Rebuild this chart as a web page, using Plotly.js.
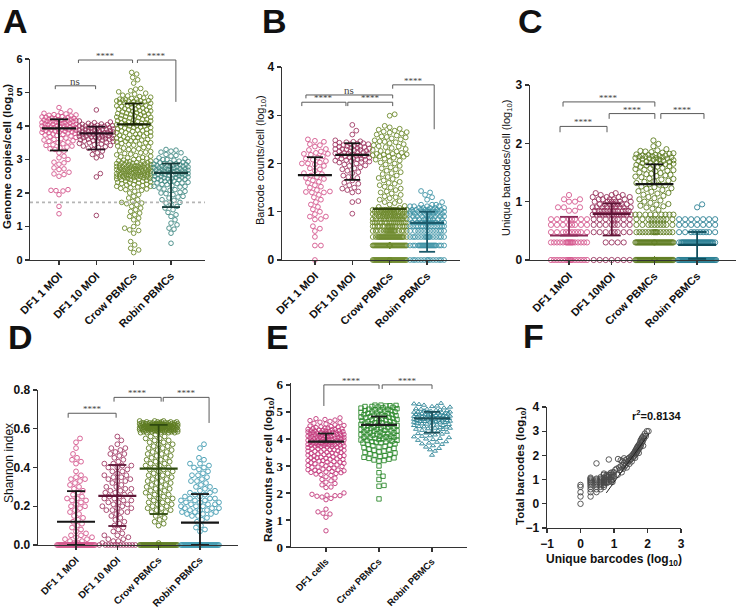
<!DOCTYPE html>
<html>
<head>
<meta charset="utf-8">
<script src="https://cdn.plot.ly/plotly-3.0.1.min.js"></script>
<style>
  body { margin: 0; background: #fff; }
  #plot { width: 737px; height: 608px; }
</style>
</head>
<body>
<div id="plot"></div>
<script>
// ---- data (log10 values) ----
var groups4 = ["DF1 1 MOI", "DF1 10 MOI", "Crow PBMCs", "Robin PBMCs"];
var groupsC = ["DF1 1MOI", "DF1 10MOI", "Crow PBMCs", "Robin PBMCs"];
var groupsE = ["DF1 cells", "Crow PBMCs", "Robin PBMCs"];

// A: genome copies / cell
var A_df1_1 = [4.55,4.45,4.4,4.38,4.36,4.34,4.33,4.32,4.3,4.3,4.28,4.27,4.26,4.25,4.24,4.23,4.22,4.21,4.2,4.2,4.19,4.18,4.17,4.16,4.15,4.15,4.14,4.13,4.12,4.11,4.1,4.1,4.09,4.08,4.07,4.06,4.05,4.05,4.04,4.03,4.02,4.01,4.0,4.0,3.99,3.98,3.97,3.96,3.95,3.95,3.94,3.93,3.92,3.91,3.9,3.9,3.89,3.88,3.87,3.86,3.85,3.84,3.83,3.82,3.81,3.8,3.79,3.78,3.76,3.75,3.73,3.72,3.7,3.68,3.66,3.64,3.62,3.6,3.58,3.56,3.54,3.52,3.5,3.47,3.44,3.42,3.4,3.37,3.35,3.32,3.3,3.25,3.2,3.1,3.05,3.0,2.92,2.9,2.86,2.75,2.72,2.7,2.62,2.57,2.55,2.5,2.1,2.08,2.07,2.06,1.95,1.6,1.38];
var A_df1_10 = [4.48,4.15,4.12,4.1,4.08,4.06,4.05,4.04,4.03,4.02,4.01,4.0,4.0,3.99,3.98,3.97,3.96,3.95,3.94,3.93,3.92,3.91,3.9,3.9,3.89,3.88,3.87,3.86,3.85,3.85,3.84,3.83,3.82,3.81,3.8,3.8,3.79,3.78,3.77,3.76,3.75,3.75,3.74,3.73,3.72,3.71,3.7,3.7,3.69,3.68,3.67,3.66,3.65,3.64,3.63,3.62,3.61,3.6,3.59,3.58,3.57,3.56,3.55,3.54,3.52,3.5,3.48,3.46,3.44,3.42,3.4,3.38,3.36,3.34,3.3,3.25,3.2,3.15,3.1,3.05,2.58,2.48,1.33];
var A_crow = [5.6,5.55,5.45,5.38,5.28,5.12,5.1,5.05,5.02,4.98,4.95,4.92,4.9,4.88,4.86,4.84,4.82,4.8,4.8,4.78,4.77,4.76,4.75,4.75,4.74,4.73,4.72,4.71,4.7,4.7,
  4.68,4.66,4.65,4.64,4.62,4.6,4.6,4.58,4.57,4.56,4.55,4.54,4.52,4.5,4.5,4.48,4.47,4.46,4.45,4.44,4.42,4.4,4.4,4.38,4.37,4.36,4.35,4.34,4.32,4.3,4.3,4.28,4.27,4.26,4.25,4.24,4.22,4.2,4.2,4.18,4.17,4.16,4.15,4.14,4.12,4.1,4.1,4.08,4.07,4.06,4.05,4.04,4.02,4.0,4.0,3.98,3.97,3.96,3.95,3.94,3.92,3.9,3.9,3.88,3.86,3.85,3.84,3.82,3.8,3.8,3.78,3.76,3.75,3.74,3.72,3.7,3.7,3.68,3.66,3.65,3.64,3.62,3.6,3.6,3.58,3.56,3.55,3.54,3.52,3.5,3.5,3.48,3.46,3.45,3.43,3.4,3.38,3.36,3.34,3.32,3.3,3.28,3.26,3.24,3.22,3.2,3.18,3.16,3.14,3.12,3.1,3.08,3.06,3.05,3.04,3.02,3.0,
  2.98,2.96,2.95,2.94,2.93,2.92,2.91,2.9,2.9,2.89,2.88,2.87,2.86,2.85,2.85,2.84,2.83,2.82,2.81,2.8,2.8,2.8,2.79,2.78,2.78,2.77,2.76,2.75,2.75,2.75,2.74,2.73,2.72,2.72,2.71,2.7,2.7,2.7,2.69,2.68,2.68,2.67,2.66,2.65,2.65,2.65,2.64,2.63,2.62,2.62,2.61,2.6,2.6,2.6,2.59,2.58,2.58,2.57,2.56,2.55,2.55,2.55,2.54,2.53,2.52,2.52,2.51,2.5,2.5,2.5,2.49,2.48,2.48,2.47,2.46,2.45,2.45,2.44,2.43,2.42,2.41,2.4,2.4,2.38,2.37,2.36,2.35,2.34,2.32,2.3,2.3,2.28,2.26,2.25,2.24,2.22,2.2,2.2,2.18,2.16,2.14,2.12,2.1,2.08,
  2.05,2.0,1.95,1.9,1.85,1.8,1.75,1.72,1.7,1.68,1.65,1.6,1.55,1.5,1.45,1.4,1.35,1.3,1.25,1.2,1.1,1.0,0.95,0.9,0.88,0.8,0.55,0.45,0.35,0.3,0.22];
var A_robin = [3.3,3.28,3.25,3.22,3.2,3.15,3.12,3.1,3.05,3.02,3.0,3.0,2.98,2.96,2.95,2.94,2.92,2.9,2.9,2.88,2.87,2.86,2.85,2.84,2.83,2.82,2.81,2.8,2.8,2.79,2.78,2.77,2.76,2.75,2.75,2.74,2.73,2.72,2.71,2.7,2.7,2.69,2.68,2.67,2.66,2.65,2.65,2.64,2.63,2.62,2.61,2.6,2.6,2.59,2.58,2.57,2.56,2.55,2.55,2.54,2.53,2.52,2.51,2.5,2.5,2.48,2.47,2.46,2.45,2.44,2.43,2.42,2.41,2.4,2.4,2.38,2.36,2.35,2.34,2.32,2.3,2.3,2.28,2.26,2.25,2.22,2.2,2.2,2.18,2.15,2.12,2.1,2.08,2.05,2.02,2.0,1.98,1.95,1.9,1.88,1.85,1.8,1.78,1.72,1.7,1.65,1.6,1.55,1.5,1.42,1.35,1.3,1.2,1.1,1.05,0.95,0.92,0.8,0.5];
var A_mean = [3.93, 3.78, 4.05, 2.6];
var A_lo = [3.27, 3.3, 4.05, 1.58];
var A_hi = [4.2, 3.98, 4.67, 2.88];
var A_limit = 1.72;

// B: barcode counts / cell
var B_df1_1 = [2.5,2.47,2.45,2.4,2.38,2.35,2.3,2.28,2.25,2.22,2.2,2.2,2.18,2.15,2.12,2.1,2.08,2.05,2.02,2.0,2.0,1.98,1.95,1.9,1.88,1.85,1.8,1.78,1.75,1.72,1.7,1.68,1.65,1.62,1.6,1.55,1.52,1.5,1.45,1.42,1.41,1.4,1.4,1.35,1.3,1.25,1.2,1.15,1.1,1.05,1.0,0.95,0.9,0.9,0.85,0.84,0.7,0.65,0.6,0.48,0.3,0.3,0.0];
var B_df1_10 = [2.8,2.68,2.6,2.48,2.46,2.45,2.44,2.43,2.42,2.41,2.4,2.4,2.39,2.38,2.37,2.36,2.35,2.35,2.34,2.33,2.32,2.31,2.3,2.3,2.29,2.28,2.27,2.26,2.25,2.25,2.24,2.23,2.22,2.21,2.2,2.2,2.19,2.18,2.17,2.16,2.15,2.15,2.14,2.13,2.12,2.11,2.1,2.1,2.09,2.08,2.07,2.06,2.05,2.04,2.03,2.02,2.0,1.98,1.96,1.95,1.92,1.9,1.88,1.85,1.82,1.8,1.75,1.72,1.7,1.65,1.6,1.58,1.55,1.5,1.48,1.45,1.42,1.4,1.22,1.2,0.96];
var B_crow_cont = [3.02,2.99,2.78,2.75,2.72,2.7,2.68,2.66,2.65,2.64,2.62,2.6,2.58,2.56,2.55,2.54,2.52,2.5,2.48,2.46,2.45,2.44,2.42,2.4,2.38,2.36,2.35,2.34,2.32,2.3,2.28,2.26,2.25,2.24,2.22,2.2,2.2,2.19,2.18,2.17,2.16,2.15,2.15,2.14,2.12,2.1,2.08,2.06,2.05,2.02,2.0,1.98,1.95,1.92,1.9,1.88,1.85,1.82,1.8,1.78,1.75,1.72,1.7,1.68,1.65,1.62,1.6,1.58,1.55,1.52,1.5,1.48,1.45,1.42,1.4,1.38,1.35,1.32,1.3,1.28,1.25,1.22,1.2,1.18,1.15,1.12,1.1,1.08];
var B_levels = [0, 0.301, 0.477, 0.602, 0.699, 0.778, 0.845, 0.903, 0.954, 1.0, 1.041, 1.079, 1.114, 1.146];
var B_crow_counts = [40, 45, 30, 20, 18, 16, 14, 14, 12, 12, 12, 0, 0, 0];
var B_robin_counts = [14, 25, 16, 12, 14, 12, 10, 8, 8, 10, 8, 5, 4, 3];
var B_robin_cont = [1.43, 1.4, 1.35, 1.3, 1.25, 1.2];
var B_mean = [1.76, 2.18, 1.06, 0.77];
var B_lo = [1.76, 1.66, 1.06, 0.17];
var B_hi = [2.13, 2.42, 1.06, 1.0];

// C: unique barcodes / cell
var C_levels = [0, 0.301, 0.477, 0.602, 0.699, 0.778, 0.845, 0.903, 0.954, 1.0, 1.041, 1.079, 1.114, 1.146, 1.176];
var C_df1_1_counts = [16, 18, 10, 8, 8, 0, 2, 3, 0, 2, 2, 0, 1, 0, 0];
var C_df1_10_counts = [7, 4, 8, 8, 8, 14, 12, 9, 7, 6, 5, 4, 3, 2, 0];
var C_crow_counts = [60, 40, 16, 10, 10, 9, 0, 0, 0, 0, 0, 0, 0, 0, 0];
var C_robin_counts = [45, 35, 10, 7, 7, 0, 0, 1, 1, 0, 0, 0, 0, 0, 0];
var C_crow_cont = [2.05,1.99,1.95,1.9,1.88,1.87,1.86,1.85,1.84,1.83,1.82,1.81,1.8,1.8,1.79,1.79,1.78,1.78,1.77,1.77,1.76,1.76,1.75,1.75,1.74,1.74,1.73,1.72,1.72,1.71,1.7,1.7,1.69,1.68,1.68,1.67,1.66,1.65,1.65,1.64,1.63,1.62,1.62,1.61,1.6,1.6,1.58,1.57,1.56,1.55,1.54,1.53,1.52,1.5,1.49,1.48,1.47,1.46,1.45,1.44,1.43,1.42,1.4,1.39,1.38,1.36,1.35,1.34,1.32,1.3,1.29,1.28,1.26,1.25,1.23,1.22,1.2,1.18,1.17,1.15,1.14,1.12,1.1,1.08,1.06,1.04,1.02,1.0,0.98,0.96,0.95,0.93,0.92,0.9,0.88,0.86];
var C_mean = [0.42, 0.79, 1.30, 0.26];
var C_lo = [0.42, 0.42, 1.30, 0.02];
var C_hi = [0.74, 0.97, 1.64, 0.48];

// D: Shannon index
var D_zero_counts = [40, 12, 70, 50];
var D_df1_1 = [0.55,0.53,0.5,0.47,0.45,0.44,0.43,0.42,0.38,0.36,0.35,0.34,0.34,0.33,0.32,0.31,0.3,0.29,0.28,0.27,0.26,0.25,0.24,0.24,0.23,0.23,0.22,0.21,0.2,0.2,0.19,0.18,0.17,0.16,0.15,0.14,0.13,0.12,0.11,0.1,0.09,0.08,0.07,0.06,0.05,0.05,0.04,0.04,0.03,0.03,0.02,0.02,0.01,0.01,0.01];
var D_df1_10 = [0.56,0.54,0.52,0.5,0.5,0.49,0.48,0.47,0.47,0.46,0.45,0.44,0.43,0.42,0.42,0.41,0.41,0.4,0.4,0.39,0.38,0.38,0.37,0.36,0.36,0.35,0.35,0.34,0.34,0.33,0.33,0.32,0.31,0.3,0.3,0.29,0.29,0.28,0.28,0.27,0.27,0.26,0.26,0.25,0.25,0.24,0.24,0.23,0.23,0.22,0.22,0.21,0.21,0.2,0.2,0.19,0.19,0.18,0.18,0.17,0.17,0.16,0.15,0.14,0.13,0.12,0.11,0.1,0.09,0.08,0.07,0.06,0.05,0.05,0.04,0.03,0.03,0.02,0.02,0.01];
var D_crow_top = [0.64, 0.635, 0.63, 0.625, 0.62, 0.615, 0.61, 0.605, 0.6, 0.595, 0.59, 0.585, 0.58];
var D_crow_top_counts = [3, 5, 8, 10, 12, 14, 14, 14, 12, 10, 8, 6, 5];
var D_crow = [0.57,0.56,0.56,0.55,0.55,0.54,0.54,0.53,0.53,0.52,0.52,0.51,0.51,0.5,0.5,0.49,0.49,0.48,0.48,0.47,0.47,0.46,0.46,0.45,0.45,0.44,0.44,0.43,0.43,0.42,0.42,0.41,0.41,0.4,0.4,0.39,0.39,0.38,0.38,0.37,0.37,0.36,0.36,0.35,0.35,0.34,0.34,0.33,0.33,0.32,0.32,0.31,0.31,0.3,0.3,0.29,0.29,0.28,0.28,0.27,0.27,0.26,0.26,0.25,0.25,0.24,0.24,0.23,0.23,0.22,0.22,0.21,0.21,0.2,0.2,0.19,0.19,0.18,0.18,0.17,0.17,0.16,0.15,0.14,0.13,0.12,0.11,0.1,0.01];
var D_robin = [0.52,0.5,0.45,0.44,0.42,0.42,0.41,0.4,0.4,0.39,0.38,0.37,0.36,0.36,0.35,0.34,0.33,0.33,0.32,0.31,0.3,0.3,0.29,0.28,0.28,0.27,0.27,0.26,0.26,0.25,0.25,0.24,0.24,0.24,0.23,0.23,0.23,0.22,0.22,0.22,0.21,0.21,0.21,0.2,0.2,0.2,0.19,0.19,0.19,0.18,0.18,0.18,0.17,0.17,0.17,0.16,0.16,0.16,0.15,0.15,0.14,0.13,0.12,0.1,0.09,0.08,0.07];
var D_mean = [0.12, 0.254, 0.394, 0.115];
var D_lo = [0.0, 0.098, 0.16, 0.0];
var D_hi = [0.278, 0.413, 0.62, 0.263];

// E: raw counts per cell
var E_df1 = [4.78,4.75,4.72,4.7,4.68,4.65,4.62,4.6,4.58,4.55,4.52,4.5,4.48,4.46,4.45,4.44,4.42,4.4,4.4,4.38,4.37,4.36,4.35,4.34,4.33,4.32,4.31,4.3,4.3,4.29,4.28,4.27,4.26,4.25,4.25,4.24,4.23,4.22,4.21,4.2,4.2,4.19,4.18,4.17,4.16,4.15,4.15,4.14,4.13,4.12,4.11,4.1,4.1,4.09,4.08,4.07,4.06,4.05,4.05,4.04,4.03,4.02,4.01,4.0,4.0,3.99,3.98,3.97,3.96,3.95,3.95,3.94,3.93,3.92,3.91,3.9,3.9,3.89,3.88,3.87,3.86,3.85,3.85,3.84,3.83,3.82,3.81,3.8,3.8,3.79,3.78,3.77,3.76,3.75,3.75,3.74,3.73,3.72,3.71,3.7,3.7,3.68,3.66,3.65,3.64,3.62,3.6,3.6,3.58,3.56,3.55,3.54,3.52,3.5,3.5,3.48,3.46,3.45,3.44,3.42,3.4,3.4,3.38,3.36,3.35,3.34,3.32,3.3,3.3,3.28,3.26,3.25,3.24,3.22,3.2,3.2,3.18,3.16,3.15,3.14,3.12,3.1,3.08,3.06,3.05,3.04,3.02,3.0,2.98,2.96,2.95,2.92,2.9,2.88,2.86,2.85,2.84,2.82,2.8,2.8,2.78,2.76,2.75,2.72,2.7,2.68,2.65,2.6,2.55,2.5,2.45,2.4,2.35,2.3,2.22,2.2,2.0,1.95,1.92,1.9,1.9,1.88,1.85,1.8,1.75,1.4,1.3,1.25,1.22,1.1,0.6];
var E_crow = [5.25,5.25,5.24,5.23,5.22,5.2,5.2,5.18,5.17,5.15,5.14,5.12,5.1,5.1,5.08,5.06,5.05,5.04,5.02,5.0,5.0,4.98,4.96,4.95,4.94,4.92,4.9,4.9,4.88,4.86,4.85,4.84,4.82,4.8,4.8,4.78,4.76,4.75,4.74,4.72,4.7,4.7,4.68,4.66,4.65,4.64,4.62,4.6,4.6,4.58,4.56,4.55,4.54,4.52,4.5,4.5,4.48,4.46,4.45,4.44,4.42,4.4,4.4,4.38,4.36,4.35,4.34,4.32,4.3,4.3,4.28,4.26,4.25,4.24,4.22,4.2,4.2,4.18,4.16,4.15,4.14,4.12,4.1,4.1,4.08,4.06,4.05,4.04,4.02,4.0,4.0,3.98,3.96,3.95,3.94,3.92,3.9,3.9,3.88,3.86,3.85,3.82,3.8,3.78,3.75,3.72,3.7,3.68,3.65,3.62,3.6,3.58,3.55,3.52,3.5,3.48,3.45,3.42,3.4,3.38,3.35,3.32,3.3,3.28,3.25,3.22,3.2,3.18,3.0,2.75,2.62,2.5,2.28,2.25,1.78];
var E_robin = [5.32,5.3,5.28,5.25,5.22,5.2,5.18,5.15,5.12,5.1,5.1,5.08,5.06,5.05,5.04,5.02,5.0,5.0,4.99,4.98,4.97,4.96,4.95,4.94,4.93,4.92,4.91,4.9,4.9,4.89,4.88,4.87,4.86,4.85,4.85,4.84,4.83,4.82,4.81,4.8,4.8,4.79,4.78,4.77,4.76,4.75,4.75,4.74,4.73,4.72,4.71,4.7,4.7,4.69,4.68,4.67,4.66,4.65,4.65,4.64,4.63,4.62,4.61,4.6,4.6,4.58,4.56,4.55,4.54,4.52,4.5,4.5,4.48,4.46,4.45,4.44,4.42,4.4,4.4,4.38,4.36,4.35,4.32,4.3,4.28,4.25,4.22,4.2,4.18,4.15,4.12,4.1,4.08,4.05,4.02,4.0,3.98,3.95,3.9,3.88,3.85,3.82,3.8,3.75,3.7,3.65,3.6,3.55,3.4];
var E_mean = [3.9, 4.52, 4.76];
var E_lo = [3.9, 4.52, 4.23];
var E_hi = [4.2, 4.83, 5.0];

// F: unique vs total barcodes
var F_x = [0,0,0,0,0, 0.301,0.301,0.301,0.301,0.301,0.301,0.301,0.301,0.301,0.301,0.301,
  0.477,0.477,0.477,0.477,0.477,0.477,0.477,0.477,0.477,0.477, 0.602,0.602,0.602,0.602,0.602,0.602,0.602,0.602,0.602,
  0.699,0.699,0.699,0.699,0.699,0.699,0.699,0.699,0.699, 0.778,0.778,0.778,0.778,0.778,0.778,0.778,
  0.845,0.845,0.845,0.845,0.845, 0.903,0.903,0.903,0.903,0.903, 0.954,0.954,0.954,0.954,0.954,
  1.0,1.0,1.04,1.08,1.11,1.15,1.18,1.2,1.2,1.23,1.26,1.28,1.3,1.32,1.34,1.36,1.38,1.4,1.41,1.43,1.45,1.46,1.48,1.5,1.51,1.53,1.54,1.56,1.57,1.59,1.6,1.61,1.62,1.63,1.64,1.65,1.66,1.67,1.68,1.69,1.7,1.71,1.72,1.73,1.74,1.75,1.76,1.77,1.78,1.79,1.8,1.81,1.82,1.83,1.84,1.85,1.86,1.87,1.88,1.9,1.92,1.95,1.98,2.03,1.3,1.12,1.25];
var F_y = [0,0.3,0.48,0.7,0.78, 0.3,0.48,0.6,0.7,0.78,0.85,0.9,0.95,1.0,1.04,1.08,
  0.48,0.6,0.7,0.78,0.85,0.9,0.95,1.0,1.04,1.67, 0.6,0.7,0.78,0.85,0.9,0.95,1.0,1.04,1.1,
  0.7,0.78,0.85,0.9,0.95,1.0,1.08,1.2,1.25, 0.85,0.9,0.95,1.0,1.1,1.15,1.2,
  0.9,1.0,1.1,1.2,1.83, 0.95,1.0,1.1,1.2,1.28, 1.0,1.1,1.2,1.3,0.9,
  1.15,1.3,1.4,1.45,1.2,1.5,1.4,1.8,1.55,1.3,1.6,1.45,1.7,1.55,1.8,1.62,1.5,1.85,1.7,1.78,1.9,1.65,1.8,1.95,1.85,1.75,2.0,1.9,2.05,1.95,2.1,2.0,2.15,1.9,2.2,2.05,2.25,2.1,2.3,2.15,2.35,2.2,2.4,2.25,2.1,2.45,2.3,2.5,2.35,2.6,2.4,2.65,2.5,2.7,2.55,2.75,2.6,2.4,2.8,2.7,2.9,2.8,3.0,3.0,1.88,1.85,1.75];
var F_fitX = [0.77, 2.05];
var F_fitY = [0.45, 2.9];
var F_r2 = "r<sup>2</sup>=0.8134";

// significance brackets: [x1, x2, top, left leg end, right leg end, label]
var A_sig = [[-0.1, 0.98, 5.2, 5.1, 5.1, "ns"], [0.52, 1.97, 5.97, 5.88, 5.88, "****"], [2.1, 3.13, 5.97, 5.88, 4.72, "****"]];
var B_sig = [[-0.24, 2.08, 3.42, 3.35, 3.35, "ns"], [-0.35, 0.83, 3.27, 3.19, 3.19, "****"], [0.88, 2.08, 3.27, 3.19, 3.19, "****"], [2.08, 3.19, 3.63, 3.55, 2.71, "****"]];
var C_sig = [[-0.14, 2.01, 2.71, 2.63, 2.63, "****"], [-0.21, 0.89, 2.29, 2.19, 2.19, "****"], [0.94, 2.01, 2.51, 2.42, 2.42, "****"], [2.15, 3.16, 2.51, 2.42, 2.42, "****"]];
var D_sig = [[-0.19, 0.97, 0.68, 0.657, 0.657, "****"], [0.92, 2.06, 0.762, 0.74, 0.74, "****"], [2.11, 3.22, 0.762, 0.74, 0.63, "****"]];
var E_sig = [[-0.04, 1.0, 6.0, 5.22, 5.85, "****"], [1.06, 2.0, 6.0, 5.85, 5.85, "****"]];

// ---- layout helpers ----
var W = 737, H = 608;
var SANS = "Liberation Sans, Arial, sans-serif";
var SERIF = "Liberation Serif, Times New Roman, serif";

// pixel boxes of each plot area
var P = {
  A: {x0: 30, x1: 205, y0: 59, y1: 260, xr: [-0.777, 3.91], yr: [0, 6], ax: ""},
  B: {x0: 282, x1: 460, y0: 67, y1: 260, xr: [-0.88, 3.88], yr: [0, 4], ax: "2"},
  C: {x0: 530, x1: 736, y0: 85, y1: 260, xr: [-0.913, 3.91], yr: [0, 3], ax: "3"},
  D: {x0: 38, x1: 238, y0: 390, y1: 545, xr: [-0.92, 3.92], yr: [0, 0.8], ax: "4"},
  E: {x0: 291, x1: 467, y0: 383, y1: 547, xr: [-0.66, 2.66], yr: [0, 6.07], ax: "5"},
  F: {x0: 547, x1: 681, y0: 407, y1: 528, xr: [-1, 3], yr: [-1, 4], ax: "6"}
};

function expand(levels, counts) {
  var out = [];
  levels.forEach(function (v, i) { for (var k = 0; k < counts[i]; k++) out.push(v); });
  return out;
}

// beeswarm offsets in pixels, converted back into category units
function swarm(vals, cat, b, diam, halfW) {
  var ppy = (b.y1 - b.y0) / (b.yr[1] - b.yr[0]);
  var ppx = (b.x1 - b.x0) / (b.xr[1] - b.xr[0]);
  var s = vals.slice().sort(function (a, c) { return a - c; });
  var placed = [], xs = [], ys = [];
  s.forEach(function (v) {
    var py = v * ppy;
    var near = [];
    for (var i = placed.length - 1; i >= 0 && py - placed[i][1] < diam; i--) near.push(placed[i]);
    var best = 0, bestScore = -1;
    for (var k = 0; k <= 2 * halfW; k++) {
      var off = (k % 2 ? 1 : -1) * Math.ceil(k / 2);
      var md = Infinity;
      near.forEach(function (p) {
        var d = Math.hypot(off - p[0], py - p[1]);
        if (d < md) md = d;
      });
      if (md >= diam) { best = off; break; }
      if (md > bestScore + 0.01) { bestScore = md; best = off; }
    }
    placed.push([best, py]);
    xs.push(cat + best / ppx);
    ys.push(v);
  });
  return {x: xs, y: ys};
}

var traces = [];
var shapes = [];
var annots = [];

function pointsTrace(b, vals, cat, color, diam, halfW, symbol) {
  var s = swarm(vals, cat, b, diam + 0.3, halfW);
  traces.push({
    x: s.x, y: s.y, xaxis: "x" + b.ax, yaxis: "y" + b.ax,
    type: "scatter", mode: "markers", cliponaxis: false, hoverinfo: "skip",
    marker: {symbol: symbol || "circle-open", size: diam, color: color, line: {width: 0.9, color: color}}
  });
}

function barsTrace(b, mean, lo, hi, colors, meanPx, capPx) {
  var ppx = (b.x1 - b.x0) / (b.xr[1] - b.xr[0]);
  var mw = meanPx / ppx, cw = capPx / ppx;
  mean.forEach(function (m, i) {
    traces.push({
      x: [i - cw, i + cw, null, i, i, null, i - cw, i + cw],
      y: [hi[i], hi[i], null, lo[i], hi[i], null, lo[i], lo[i]],
      xaxis: "x" + b.ax, yaxis: "y" + b.ax, type: "scatter", mode: "lines",
      cliponaxis: false, hoverinfo: "skip", line: {color: colors[i], width: 1.8}
    });
    traces.push({
      x: [i - mw, i + mw], y: [m, m],
      xaxis: "x" + b.ax, yaxis: "y" + b.ax, type: "scatter", mode: "lines",
      cliponaxis: false, hoverinfo: "skip", line: {color: colors[i], width: 2.2}
    });
  });
}

function brackets(b, sig, txtSize) {
  sig.forEach(function (s) {
    shapes.push({
      type: "path", xref: "x" + b.ax, yref: "y" + b.ax,
      path: "M" + s[0] + "," + s[3] + " L" + s[0] + "," + s[2] + " L" + s[1] + "," + s[2] + " L" + s[1] + "," + s[4],
      line: {color: "#5a5a5a", width: 1}
    });
    annots.push({
      xref: "x" + b.ax, yref: "y" + b.ax, x: (s[0] + s[1]) / 2, y: s[2],
      text: s[5], showarrow: false, yanchor: "bottom", yshift: -3,
      font: {family: SERIF, size: s[5] === "ns" ? 11 : txtSize, color: "#444"}
    });
  });
}

// A
var pink = "#d4568c", maroon = "#99375f", olive = "#6e8a2e", teal = "#3f8882";
pointsTrace(P.A, A_df1_1, 0, pink, 4.6, 17);
pointsTrace(P.A, A_df1_10, 1, maroon, 4.6, 17);
pointsTrace(P.A, A_crow, 2, olive, 4.6, 17);
pointsTrace(P.A, A_robin, 3, teal, 4.6, 17);
barsTrace(P.A, A_mean, A_lo, A_hi, ["#151515", "#2a1020", "#1c2608", "#163c3a"], 17, 9);
brackets(P.A, A_sig, 9);
shapes.push({type: "line", xref: "x", yref: "y", x0: P.A.xr[0], x1: P.A.xr[1], y0: A_limit, y1: A_limit,
  line: {color: "#b5b5b5", width: 1.6, dash: "dot"}});

// B
pointsTrace(P.B, B_df1_1, 0, pink, 4.8, 17);
pointsTrace(P.B, B_df1_10, 1, "#a13c66", 4.8, 17);
pointsTrace(P.B, B_crow_cont.concat(expand(B_levels, B_crow_counts)), 2, olive, 4.8, 17);
pointsTrace(P.B, B_robin_cont.concat(expand(B_levels, B_robin_counts)), 3, "#3e93a6", 4.8, 17);
barsTrace(P.B, B_mean, B_lo, B_hi, ["#151515", "#151515", "#33460f", "#1b5a6b"], 17, 8);
brackets(P.B, B_sig, 9);

// C
pointsTrace(P.C, expand(C_levels, C_df1_1_counts), 0, "#d65a90", 5.2, 19);
pointsTrace(P.C, expand(C_levels, C_df1_10_counts), 1, "#98345f", 5.2, 19);
pointsTrace(P.C, C_crow_cont.concat(expand(C_levels, C_crow_counts)), 2, "#5f7d22", 5.2, 19);
pointsTrace(P.C, expand(C_levels, C_robin_counts), 3, "#2b8094", 5.2, 19);
barsTrace(P.C, C_mean, C_lo, C_hi, ["#8a2a58", "#5e1536", "#151515", "#0f4d5c"], 19, 9);
brackets(P.C, C_sig, 9);

// D
var zeros = function (n) { return expand([0], [n]); };
pointsTrace(P.D, D_df1_1.concat(zeros(D_zero_counts[0])), 0, "#d4568c", 4.8, 19);
pointsTrace(P.D, D_df1_10.concat(zeros(D_zero_counts[1])), 1, "#a13c66", 4.8, 19);
pointsTrace(P.D, D_crow.concat(expand(D_crow_top, D_crow_top_counts), zeros(D_zero_counts[2])), 2, "#5f7d22", 4.8, 19);
pointsTrace(P.D, D_robin.concat(zeros(D_zero_counts[3])), 3, "#3f9ab0", 4.8, 19);
barsTrace(P.D, D_mean, D_lo, D_hi, ["#151515", "#5e1536", "#2f4a10", "#151515"], 19, 9);
brackets(P.D, D_sig, 9);

// E
pointsTrace(P.E, E_df1, 0, "#c2387a", 4.4, 18, "circle-open");
pointsTrace(P.E, E_crow, 1, "#2e8a2e", 4.4, 18, "square-open");
pointsTrace(P.E, E_robin, 2, "#2f8496", 4.4, 18, "triangle-up-open");
barsTrace(P.E, E_mean, E_lo, E_hi, ["#1e1e1e", "#1e1e1e", "#1d4f5a"], 18, 8);
brackets(P.E, E_sig, 9);

// F
traces.push({
  x: F_x, y: F_y, xaxis: "x6", yaxis: "y6", type: "scatter", mode: "markers",
  cliponaxis: false, hoverinfo: "skip",
  marker: {symbol: "circle-open", size: 5.5, color: "#4a4a4a", line: {width: 0.9, color: "#4a4a4a"}}
});
traces.push({
  x: F_fitX, y: F_fitY, xaxis: "x6", yaxis: "y6", type: "scatter", mode: "lines",
  cliponaxis: false, hoverinfo: "skip", line: {color: "#222", width: 1}
});

// ---- axes ----
var layout = {
  width: W, height: H, margin: {l: 0, r: 0, t: 0, b: 0},
  paper_bgcolor: "#fff", plot_bgcolor: "rgba(0,0,0,0)", showlegend: false,
  font: {family: SANS, color: "#111"}
};

function axes(key, cats, ytickFont, xtickFont, dtick, tickformat) {
  var b = P[key];
  var xa = {
    domain: [b.x0 / W, b.x1 / W], range: b.xr, anchor: "y" + b.ax,
    showgrid: false, zeroline: false, showline: true, linecolor: "#333", linewidth: 1.3,
    ticks: "outside", ticklen: 4, tickcolor: "#333", tickwidth: 1.3, tickfont: xtickFont
  };
  if (cats) {
    xa.tickmode = "array"; xa.tickvals = cats.map(function (c, i) { return i; });
    xa.ticktext = cats; xa.tickangle = -45;
  } else {
    xa.dtick = 1; xa.tick0 = 0;
  }
  var ya = {
    domain: [1 - b.y1 / H, 1 - b.y0 / H], range: b.yr, anchor: "x" + b.ax,
    showgrid: false, zeroline: false, showline: true, linecolor: "#333", linewidth: 1.3,
    ticks: "outside", ticklen: 4, tickcolor: "#333", tickwidth: 1.3, tickfont: ytickFont,
    dtick: dtick, tick0: 0
  };
  if (tickformat) ya.tickformat = tickformat;
  layout["xaxis" + b.ax] = xa;
  layout["yaxis" + b.ax] = ya;
}

var tf12b = {family: SANS, size: 12, color: "#111", weight: "bold"};
var tf11b = {family: SANS, size: 11, color: "#111", weight: "bold"};
var tf10b = {family: SANS, size: 10, color: "#111", weight: "bold"};
axes("A", groups4, {family: SANS, size: 11, color: "#111", weight: "bold"}, tf11b, 1);
axes("B", groups4, tf12b, tf11b, 1);
axes("C", groupsC, tf12b, tf11b, 1);
axes("D", groups4, tf12b, tf10b, 0.2, ".1f");
axes("E", groupsE, {family: SERIF, size: 13, color: "#111", weight: "bold"},
  {family: SANS, size: 9.5, color: "#111", weight: "bold"}, 1);
axes("F", null, tf12b, tf12b, 1);

// ---- titles and panel letters ----
function px(x) { return x / W; }
function py(y) { return 1 - y / H; }
function label(text, x, y, size, bold, angle, yanchor) {
  annots.push({
    xref: "paper", yref: "paper", x: px(x), y: py(y), text: text, showarrow: false,
    xanchor: "center", yanchor: yanchor || "middle", textangle: angle || 0,
    font: {family: SANS, size: size, color: "#111", weight: bold ? "bold" : "normal"}
  });
}
label("A", 16, 0, 34, true, 0, "top");
label("B", 274, 0, 34, true, 0, "top");
label("C", 530, 0, 34, true, 0, "top");
label("D", 20, 316, 34, true, 0, "top");
label("E", 277, 316, 34, true, 0, "top");
label("F", 533, 315, 34, true, 0, "top");

label("Genome copies/cell (log<sub>10</sub>)", 8, 157, 11.5, true, -90);
label("Barcode counts/cell (log<sub>10</sub>)", 261, 160, 11, false, -90);
label("Unique barcodes/cell (log<sub>10</sub>)", 507, 168, 11, false, -90);
label("Shannon index", 9, 463, 12, false, -90);
label("Raw counts per cell (log<sub>10</sub>)", 269, 470, 11.5, true, -90);
label("Total barcodes (log<sub>10</sub>)", 521, 466, 11.5, true, -90);
label("Unique barcodes (log<sub>10</sub>)", 614, 560, 12, true, 0);
label(F_r2, 657, 415, 11, true, 0);

layout.shapes = shapes;
layout.annotations = annots;

Plotly.newPlot("plot", traces, layout, {displayModeBar: false, staticPlot: true});
</script>
</body>
</html>
